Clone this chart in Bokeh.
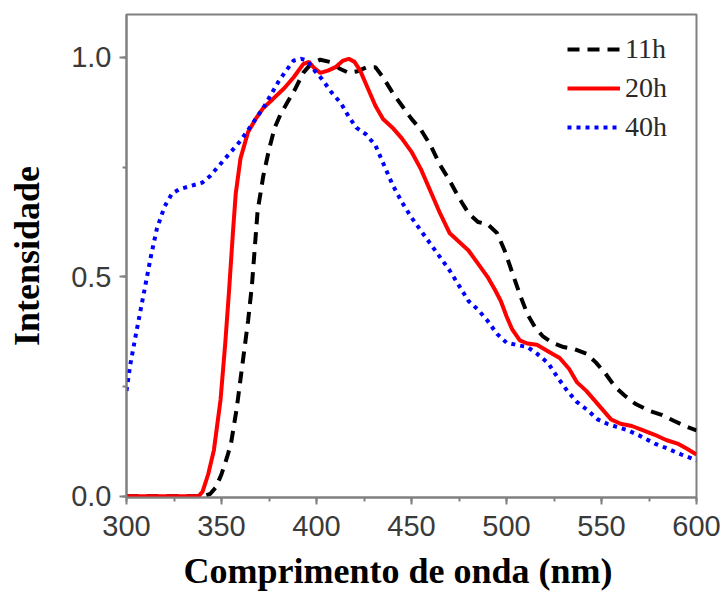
from bokeh.plotting import figure
from bokeh.models import Range1d, FixedTicker, Legend, LegendItem, Title
from bokeh.embed import file_html
from bokeh.resources import INLINE

# Emission spectra (normalised intensity) for three synthesis times
x_11h = [300, 340, 344, 347, 350, 353, 355, 358, 361, 364, 366, 369, 372, 375, 378, 381,
         385, 389, 393, 397, 402, 407, 412, 417, 421, 426, 431, 435, 440, 445, 450, 455,
         460, 465, 470, 475, 480, 485, 490, 495, 499, 503, 507, 511, 515, 519, 524, 530,
         536, 542, 547, 552, 557, 562, 568, 575, 582, 588, 594, 600]
y_11h = [0.0, 0.0, 0.005, 0.02, 0.05, 0.09, 0.12, 0.2, 0.30, 0.40, 0.48, 0.65, 0.73, 0.79, 0.84, 0.87,
         0.90, 0.93, 0.965, 0.985, 0.995, 0.99, 0.975, 0.965, 0.968, 0.977, 0.978, 0.955, 0.92, 0.89, 0.86, 0.835,
         0.80, 0.755, 0.72, 0.68, 0.645, 0.625, 0.62, 0.60, 0.56, 0.51, 0.46, 0.415, 0.385, 0.365, 0.35, 0.34,
         0.335, 0.325, 0.305, 0.28, 0.25, 0.23, 0.21, 0.195, 0.185, 0.172, 0.16, 0.15]

x_20h = [300, 320, 338, 340, 343, 346, 349.5, 352, 354, 356, 357.5, 360, 364, 368, 372, 377,
         383, 388, 393, 396, 399, 402, 406, 410, 414, 417, 420, 423, 427, 431, 435, 440,
         445, 450, 455, 460, 465, 470, 475, 480, 485, 490, 494, 497, 500, 503, 507, 511,
         516, 522, 528, 533, 537, 542, 546, 551, 555, 560, 566, 572, 578, 584, 590, 595, 600]
y_20h = [0.0, 0.0, 0.0, 0.01, 0.05, 0.105, 0.22, 0.35, 0.47, 0.6, 0.69, 0.77, 0.83, 0.86, 0.885, 0.905,
         0.93, 0.955, 0.985, 0.99, 0.975, 0.965, 0.97, 0.978, 0.993, 0.997, 0.99, 0.97, 0.93, 0.89, 0.86, 0.84,
         0.815, 0.785, 0.745, 0.695, 0.645, 0.60, 0.58, 0.56, 0.53, 0.50, 0.47, 0.445, 0.41, 0.38, 0.355, 0.348,
         0.345, 0.33, 0.315, 0.29, 0.26, 0.24, 0.22, 0.195, 0.175, 0.165, 0.16, 0.15, 0.14, 0.128, 0.12, 0.108, 0.095]

x_40h = [300, 302, 305, 309, 313, 316, 320, 324, 328, 332, 336, 340, 344, 348, 352, 356,
         360, 364, 368, 372, 376, 380, 384, 388, 392, 395, 399, 403, 408, 413, 417, 421,
         426, 431, 435, 440, 445, 450, 455, 460, 465, 470, 475, 480, 485, 490, 495, 500,
         505, 511, 516, 522, 527, 532, 537, 543, 548, 553, 558, 564, 570, 578, 585, 592, 600]
y_40h = [0.24, 0.30, 0.37, 0.46, 0.55, 0.61, 0.66, 0.69, 0.70, 0.705, 0.71, 0.715, 0.73, 0.75, 0.77, 0.79,
         0.81, 0.835, 0.86, 0.885, 0.915, 0.945, 0.97, 0.993, 0.997, 0.993, 0.97, 0.95, 0.92, 0.895, 0.865, 0.84,
         0.825, 0.80, 0.76, 0.71, 0.67, 0.635, 0.605, 0.575, 0.545, 0.515, 0.48, 0.445, 0.425, 0.40, 0.37, 0.35,
         0.345, 0.34, 0.325, 0.303, 0.27, 0.24, 0.215, 0.195, 0.175, 0.165, 0.158, 0.15, 0.138, 0.12, 0.108, 0.095, 0.082]

series_labels = ["11h", "20h", "40h"]
x_ticks = [300, 350, 400, 450, 500, 550, 600]
y_ticks = [0.0, 0.5, 1.0]
x_title = "Comprimento de onda (nm)"
y_title = "Intensidade"

p = figure(width=725, height=601, output_backend="svg", toolbar_location=None,
           x_range=Range1d(300, 600), y_range=Range1d(-0.003, 1.098),
           min_border_left=126, min_border_right=29, min_border_top=14, min_border_bottom=104)

p.background_fill_color = "white"
p.border_fill_color = "white"
p.outline_line_color = "#808080"
p.outline_line_width = 2
p.grid.visible = False

r11 = p.line(x_11h, y_11h, line_color="black", line_width=4, line_dash="12 8")
r20 = p.line(x_20h, y_20h, line_color="#ff0000", line_width=4)
r40 = p.line(x_40h, y_40h, line_color="#0000ff", line_width=4, line_dash="4 5")

for ax in (p.xaxis[0], p.yaxis[0]):
    ax.axis_line_color = "#808080"
    ax.axis_line_width = 2
    ax.major_tick_line_color = "#808080"
    ax.minor_tick_line_color = "#808080"
    ax.major_tick_line_width = 2
    ax.minor_tick_line_width = 2
    ax.major_tick_out = 7
    ax.major_tick_in = 0
    ax.minor_tick_out = 4
    ax.minor_tick_in = 0
    ax.major_label_text_font = "Liberation Sans"
    ax.major_label_text_font_size = "29px"
    ax.major_label_text_color = "#3a3a3a"

p.xaxis.ticker = FixedTicker(ticks=x_ticks, minor_ticks=list(range(300, 601, 25)))
p.yaxis.ticker = FixedTicker(ticks=y_ticks, minor_ticks=[0.0, 0.25, 0.5, 0.75, 1.0])
p.yaxis.major_label_overrides = {0.0: "0.0", 0.5: "0.5", 1.0: "1.0"}
p.xaxis.major_label_standoff = 11
p.yaxis.major_label_standoff = 8

# Vertical title on the y axis
p.yaxis.axis_label = y_title
p.yaxis.axis_label_text_font = "Liberation Serif"
p.yaxis.axis_label_text_font_style = "bold"
p.yaxis.axis_label_text_font_size = "36px"
p.yaxis.axis_label_text_color = "black"
p.yaxis.axis_label_standoff = 21

# Horizontal title below the x axis, offset from the frame's left edge
p.add_layout(Title(text=x_title, align="left", offset=57, standoff=21,
                   text_font="Liberation Serif", text_font_style="bold",
                   text_font_size="36px", text_color="black"), "below")

legend = Legend(items=[LegendItem(label=series_labels[0], renderers=[r11]),
                       LegendItem(label=series_labels[1], renderers=[r20]),
                       LegendItem(label=series_labels[2], renderers=[r40])],
                location="top_right", orientation="vertical",
                glyph_width=53, glyph_height=34, label_height=34, label_width=53,
                label_standoff=5, spacing=5, padding=0, margin=18,
                label_text_font="Liberation Serif", label_text_font_size="28px",
                label_text_color="#2a2a2a", border_line_color=None,
                background_fill_alpha=0)
p.add_layout(legend)

open("out.html", "w").write(file_html(p, INLINE))
